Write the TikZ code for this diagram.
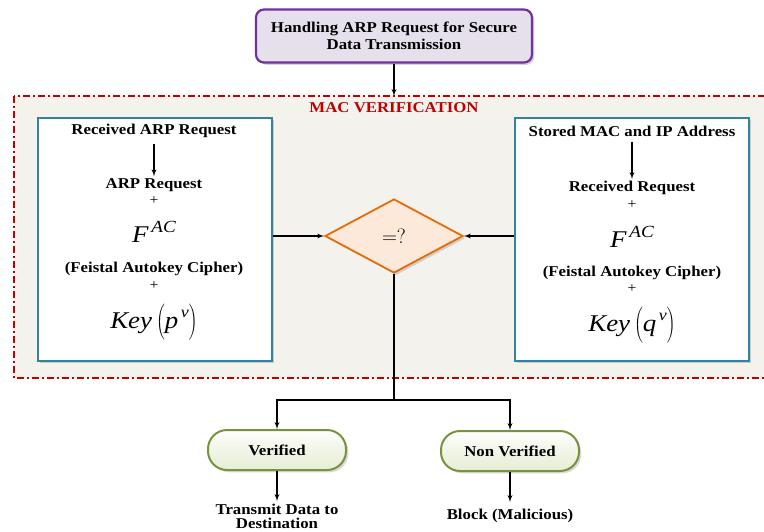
\documentclass[tikz,border=0pt]{standalone}
\usepackage{fontspec}
\setmainfont{Liberation Serif}[FakeStretch=1.12]
\usetikzlibrary{shapes,arrows,shadows}

\definecolor{purpleline}{RGB}{112,48,160}
\definecolor{purplefill}{RGB}{230,224,236}
\definecolor{tealline}{RGB}{49,132,155}
\definecolor{framered}{RGB}{192,0,0}
\definecolor{framefill}{RGB}{243,242,236}
\definecolor{orangeline}{RGB}{228,108,10}
\definecolor{orangefill}{RGB}{253,233,217}
\definecolor{greenline}{RGB}{119,147,60}
\definecolor{greenfill}{RGB}{230,238,214}

\newcommand{\fac}{\textit{F}\raisebox{0.42em}{\fontsize{17}{17}\selectfont\,\textit{AC}}}
\newcommand{\keyof}[1]{\textit{Key}\,$\left(\vphantom{\raisebox{0.5em}{v}}\textit{#1}\raisebox{0.45em}{\fontsize{16}{16}\selectfont\,\textit{v}}\right)$}

\begin{document}
\begin{tikzpicture}[x=1pt,y=-1pt,>=latex',
    txt/.style={font=\fontsize{15}{17}\selectfont\bfseries, align=center, inner sep=2pt},
    plus/.style={font=\fontsize{14}{15}\selectfont, inner sep=1pt},
    big/.style={font=\fontsize{24}{26}\selectfont, inner sep=1pt},
    title/.style={draw=purpleline, fill=purplefill, line width=2.2pt, rounded corners=8pt, minimum width=276pt, minimum height=53pt, drop shadow={opacity=0.35}},
    panel/.style={draw=tealline, fill=white, line width=2.6pt, minimum width=234pt, minimum height=243pt, drop shadow={opacity=0.35}},
    test/.style={shape=diamond, draw=orangeline, fill=orangefill, line width=1.8pt, aspect=1.86, minimum width=138pt, minimum height=74pt, inner sep=0pt, drop shadow={opacity=0.3}},
    result/.style={draw=greenline, top color=white, bottom color=greenfill, middle color=greenfill!60, line width=2pt, rounded corners=19pt, minimum width=138pt, minimum height=40pt, drop shadow={opacity=0.3}},
    link/.style={->, line width=1.3pt}]
    \useasboundingbox (0,0) rectangle (764,531);

    % verification frame
    \draw[framered, fill=framefill, line width=1.2pt, dash pattern=on 7pt off 3pt on 2pt off 3pt] (14,96) rectangle (790,378);
    \node[txt, text=framered] (macver) at (394,108) {MAC VERIFICATION};

    \node[title] (start) at (394,36) {};
    \node[txt] (starttxt) at (394,36) {Handling ARP Request for Secure\\Data Transmission};
    \draw[link] (start) -- (394,96);

    % left panel
    \node[panel] (boxL) at (155,239.5) {};
    \node[txt] (recvL) at (154,131) {Received ARP Request};
    \node[txt] (arpL) at (154,185) {ARP Request};
    \node[plus] (plusA) at (154,201) {+};
    \node[big] (facL) at (154,232) {\fac};
    \node[txt] (feisL) at (154,269) {(Feistal Autokey Cipher)};
    \node[plus] (plusB) at (154,286) {+};
    \node[big] (keyL) at (154,322) {\keyof{p}};
    \draw[link] (recvL.south) ++(0,4) -- (arpL.north);

    % right panel
    \node[panel] (boxR) at (632,239.5) {};
    \node[txt] (storR) at (632,131) {Stored MAC and IP Address};
    \node[txt] (recR) at (632,188) {Received Request};
    \node[plus] (plusC) at (632,205) {+};
    \node[big] (facR) at (632,237) {\fac};
    \node[txt] (feisR) at (632,273) {(Feistal Autokey Cipher)};
    \node[plus] (plusD) at (632,289) {+};
    \node[big] (keyR) at (632,325) {\keyof{q}};
    \draw[link] (storR.south) ++(0,4) -- (recR.north);

    % comparison
    \node[test, font=\fontsize{22}{24}\selectfont] (cmp) at (394,236) {$=?$};
    \draw[link] (boxL.east |- cmp) -- (cmp.west);
    \draw[link] (boxR.west |- cmp) -- (cmp.east);

    % outcomes
    \node[result] (ver) at (277,450) {};
    \node[txt] (vertxt) at (277,450) {Verified};
    \node[result] (nver) at (510,451) {};
    \node[txt] (nvertxt) at (510,451) {Non Verified};
    \draw[line width=1.3pt] (cmp.south) -- (394,400) coordinate (split);
    \draw[link] (split) -| (ver.north);
    \draw[link] (split) -| (nver.north);

    \node[txt, font=\fontsize{15}{14.5}\selectfont\bfseries] (send) at (277,516.5) {Transmit Data to\\Destination};
    \node[txt] (block) at (510,516) {Block (Malicious)};
    \draw[link] (ver.south) -- (277,501);
    \draw[link] (nver.south) -- (510,502);
\end{tikzpicture}
\end{document}
